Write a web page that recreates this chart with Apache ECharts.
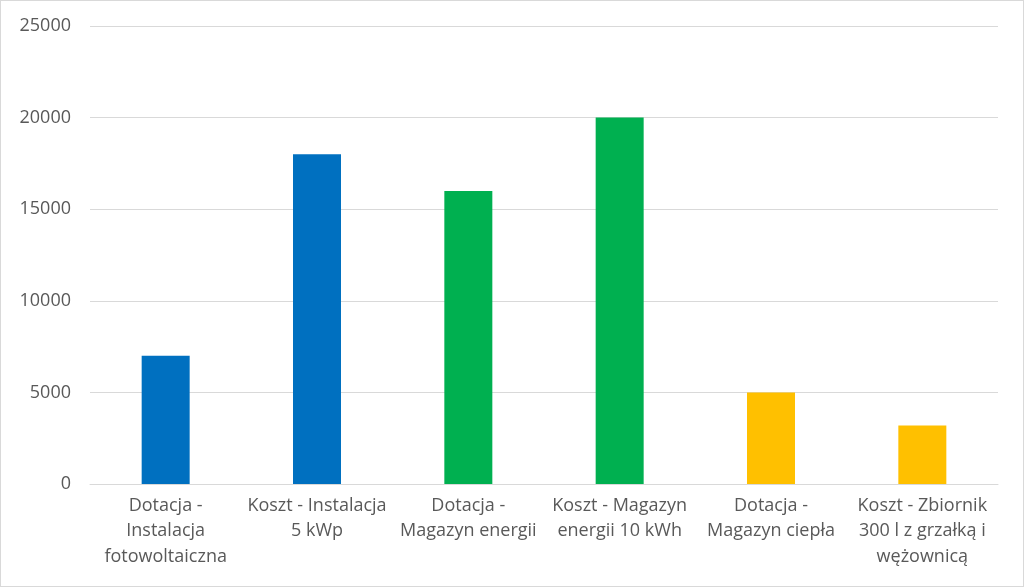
<!DOCTYPE html>
<html>
<head>
<meta charset="utf-8">
<script src="https://cdn.jsdelivr.net/npm/echarts@6/dist/echarts.min.js"></script>
<style>
  html, body { margin: 0; padding: 0; background: #fff; }
  #main { width: 1024px; height: 587px; box-sizing: border-box; border: 1px solid #d9d9d9; }
</style>
</head>
<body>
<div id="main"></div>
<script>
// kategorie (z ręcznym łamaniem linii jak w oryginale)
const categories = [
  'Dotacja -\nInstalacja\nfotowoltaiczna',
  'Koszt - Instalacja\n5 kWp',
  'Dotacja -\nMagazyn energii',
  'Koszt - Magazyn\nenergii 10 kWh',
  'Dotacja -\nMagazyn ciepła',
  'Koszt - Zbiornik\n300 l z grzałką i\nwężownicą'
]
const values = [7000, 18000, 16000, 20000, 5000, 3200]
const yTicks = [0, 5000, 10000, 15000, 20000, 25000]
const barColors = ['#0070C0', '#0070C0', '#00B050', '#00B050', '#FFC000', '#FFC000']

const chart = echarts.init(document.getElementById('main'))
chart.setOption({
  animation: false,
  grid: { left: 89, right: 25, top: 25, bottom: 102 },
  xAxis: {
    type: 'category',
    data: categories,
    axisLine: { lineStyle: { color: '#d9d9d9', width: 1 } },
    axisTick: { show: false },
    axisLabel: {
      interval: 0,
      color: '#595959',
      fontSize: 18,
      fontFamily: 'Open Sans',
      lineHeight: 25.5,
      margin: 9
    }
  },
  yAxis: {
    type: 'value',
    min: yTicks[0],
    max: yTicks[yTicks.length - 1],
    interval: 5000,
    axisLine: { show: false },
    axisTick: { show: false },
    axisLabel: {
      color: '#595959', fontSize: 18, fontFamily: 'Open Sans', margin: 19,
      formatter: v => String(v)
    },
    splitLine: { lineStyle: { color: '#d9d9d9', width: 1 } }
  },
  series: [{
    type: 'bar',
    barWidth: 48,
    data: values.map((v, i) => ({ value: v, itemStyle: { color: barColors[i] } }))
  }]
})
</script>
</body>
</html>
